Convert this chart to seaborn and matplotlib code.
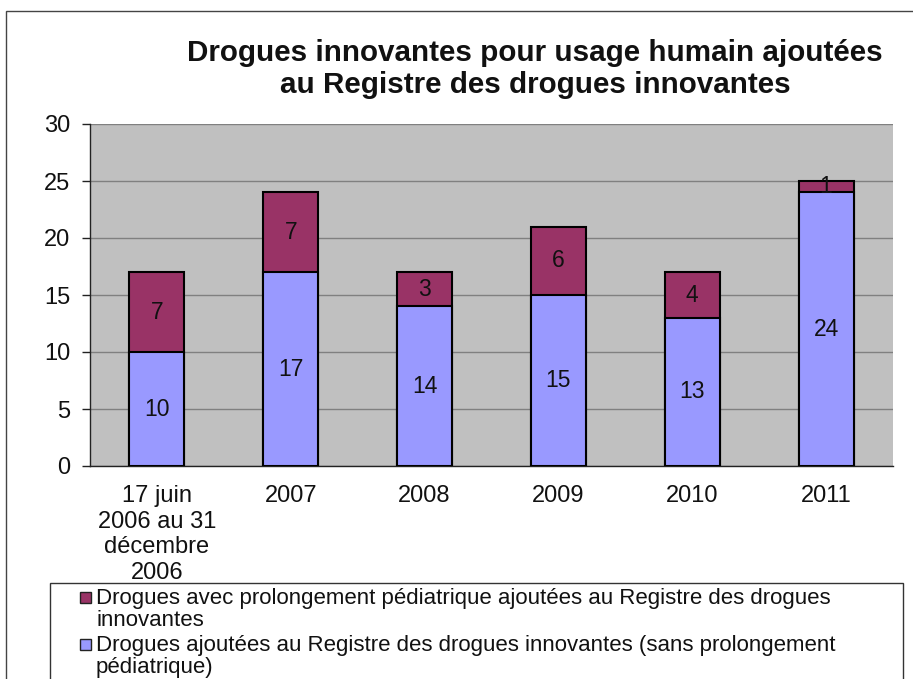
import matplotlib
matplotlib.use("Agg")
import matplotlib.pyplot as plt
import seaborn as sns
import pandas as pd
from matplotlib.patches import Rectangle

# Données
categories = ["17 juin\n2006 au 31\ndécembre\n2006", "2007", "2008", "2009", "2010", "2011"]
sans_prolongement = [10, 17, 14, 15, 13, 24]
avec_prolongement = [7, 7, 3, 6, 4, 1]

label_avec = "Drogues avec prolongement pédiatrique ajoutées au Registre des drogues\ninnovantes"
label_sans = "Drogues ajoutées au Registre des drogues innovantes (sans prolongement\npédiatrique)"
titre = "Drogues innovantes pour usage humain ajoutées\nau Registre des drogues innovantes"

BLEU = "#9999ff"
BORDEAUX = "#993366"

sns.set_theme(style="white")
plt.rcParams['font.family'] = ['Liberation Sans', 'DejaVu Sans']

df = pd.DataFrame({
    "periode": categories,
    "sans": sans_prolongement,
    "avec": avec_prolongement,
})
df["total"] = df["sans"] + df["avec"]

W, H = 913, 679
fig = plt.figure(figsize=(W / 100, H / 100), dpi=100)
ax = fig.add_axes([90 / W, 1 - 466 / H, (893 - 90) / W, (466 - 124) / H])
ax.set_facecolor("#c0c0c0")

# barres empilées : total (bordeaux) puis la partie bleue par-dessus
sns.barplot(data=df, x="periode", y="total", color=BORDEAUX, width=0.41,
            edgecolor="black", linewidth=1.5, saturation=1, ax=ax, zorder=3)
sns.barplot(data=df, x="periode", y="sans", color=BLEU, width=0.41,
            edgecolor="black", linewidth=1.5, saturation=1, ax=ax, zorder=3)

# étiquettes de valeurs
for i, row in df.iterrows():
    ax.text(i, row["sans"] / 2, str(row["sans"]), ha="center", va="center",
            fontsize=16.5, color="#111111", zorder=5)
    ax.text(i, row["sans"] + row["avec"] / 2, str(row["avec"]), ha="center",
            va="center", fontsize=16.5, color="#111111", zorder=5)

ax.set_ylim(0, 30)
ax.set_yticks(range(0, 31, 5))
ax.set_xlim(-0.5, len(categories) - 0.5)
ax.yaxis.grid(True, color="#808080", linewidth=1)
ax.set_axisbelow(True)
ax.set_xlabel("")
ax.set_ylabel("")
for s in ["top", "right"]:
    ax.spines[s].set_visible(False)
for s in ["left", "bottom"]:
    ax.spines[s].set_color("#222222")
    ax.spines[s].set_linewidth(1)
ax.tick_params(axis="y", which="both", left=True, length=6, width=1,
               color="#222222", labelsize=17, pad=8, labelcolor="#111111")
ax.tick_params(axis="x", bottom=False, labelsize=17, pad=8, labelcolor="#111111")
ax.set_xticks(range(len(categories)))
ax.set_xticklabels(categories, linespacing=1.2)

fig.text(535 / W, 1 - 69 / H, titre, ha="center", va="center",
         fontsize=21.3, fontweight="bold", linespacing=1.15, color="#111111")

# cadre extérieur
fig.patches.append(Rectangle((6 / W, -0.1), 1.2, 1 - 11 / H + 0.1,
                             transform=fig.transFigure, fill=False,
                             edgecolor="#444444", linewidth=1))

# légende (cadre coupé en bas comme dans l'original)
fig.patches.append(Rectangle((50 / W, -0.1), 853 / W, 1 - 583 / H + 0.1,
                             transform=fig.transFigure, facecolor="white",
                             edgecolor="#333333", linewidth=1))
for couleur, texte, y in [(BORDEAUX, label_avec, 597), (BLEU, label_sans, 644)]:
    fig.patches.append(Rectangle((80 / W, 1 - (y + 6) / H), 11 / W, 11 / H,
                                 transform=fig.transFigure, facecolor=couleur,
                                 edgecolor="#222222", linewidth=1))
    fig.text(96 / W, 1 - (y - 9) / H, texte, ha="left", va="top",
             fontsize=16, linespacing=1.06, color="#111111")

fig.savefig("out.png", dpi=100)
